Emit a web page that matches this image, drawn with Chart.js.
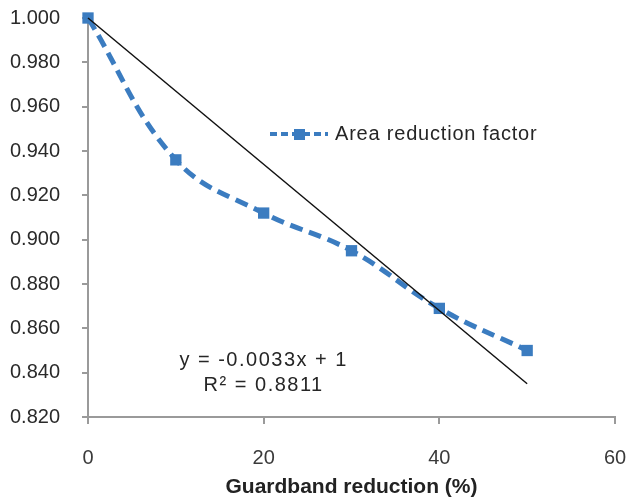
<!DOCTYPE html>
<html>
<head>
<meta charset="utf-8">
<script src="https://cdn.jsdelivr.net/npm/chart.js@4/dist/chart.umd.min.js"></script>
<style>
  html, body { margin: 0; padding: 0; background: #fff; }
  #wrap { width: 626px; height: 500px; position: relative; }
</style>
</head>
<body>
<div id="wrap"><canvas id="myChart" width="626" height="500"></canvas></div>
<script>
let ctx = document.getElementById('myChart').getContext('2d')

// guardband reduction (%) and the area factor measured at each step
const reductionPct = [0, 10, 20, 30, 40, 50]
const areaFactor   = [1.000, 0.936, 0.912, 0.895, 0.869, 0.850]

// linear trend through the points (intercept fixed at 1)
const trendSlope = -0.0033
const trendIntercept = 1
const trendX = [0, 50]
const trendR2 = 0.8811

// axis ticks
const xTicks = [0, 20, 40, 60]
const yTicks = [0.820, 0.840, 0.860, 0.880, 0.900, 0.920, 0.940, 0.960, 0.980, 1.000]

const seriesName = 'Area reduction factor'
const xTitle = 'Guardband reduction (%)'

const blue = '#3b7cc0'
const font = '"Liberation Sans", Arial, sans-serif'

let points = reductionPct.map((x, i) => ({ x: x, y: areaFactor[i] }))
let trend = trendX.map(x => ({ x: x, y: trendIntercept + trendSlope * x }))

// in-plot legend and trend equation
const notes = {
  id: 'notes',
  afterDraw(chart) {
    let c = chart.ctx
    let area = chart.chartArea
    c.save()

    // legend entry
    let ly = area.top + 116
    let lx = area.left + 182
    c.strokeStyle = blue
    c.lineWidth = 4
    c.setLineDash([7, 4])
    c.beginPath()
    c.moveTo(lx, ly)
    c.lineTo(lx + 58, ly)
    c.stroke()
    c.setLineDash([])
    c.fillStyle = blue
    c.fillRect(lx + 24, ly - 5, 11, 11)
    c.fillStyle = '#262626'
    c.font = '20px ' + font
    c.letterSpacing = '0.8px'
    c.textBaseline = 'middle'
    c.textAlign = 'left'
    c.fillText(seriesName, lx + 65, ly)

    // trend equation
    let ex = chart.scales.x.getPixelForValue(20)
    c.letterSpacing = '1.5px'
    c.textAlign = 'center'
    c.fillText('y = ' + trendSlope + 'x + ' + trendIntercept, ex, area.top + 342)
    c.fillText('R\u00b2 = ' + trendR2, ex, area.top + 367)
    c.restore()
  }
}

let chart = new Chart(ctx, {
  type: 'line',
  data: {
    datasets: [
      {
        label: seriesName,
        data: points,
        borderColor: blue,
        backgroundColor: blue,
        borderWidth: 5,
        borderDash: [13, 7],
        tension: 0.4,
        pointStyle: 'rect',
        pointRadius: 8,
        pointHoverRadius: 8,
        pointBorderWidth: 0,
        clip: false,
        order: 2
      },
      {
        label: 'trend',
        data: trend,
        borderColor: '#111',
        borderWidth: 1.5,
        pointRadius: 0,
        tension: 0,
        clip: false,
        order: 1
      }
    ]
  },
  options: {
    responsive: false,
    animation: false,
    events: [],
    layout: { padding: { top: 18, right: 11, left: 0, bottom: 0 } },
    plugins: {
      legend: { display: false },
      tooltip: { enabled: false }
    },
    scales: {
      x: {
        type: 'linear',
        min: 0,
        max: 60,
        afterBuildTicks: s => { s.ticks = xTicks.map(v => ({ value: v })) },
        afterFit: s => {
          s.height = 83
          s.paddingLeft = 0
          s.paddingRight = 0
        },
        grid: { drawOnChartArea: false, drawTicks: true, tickLength: 7, color: '#9a9a9a', lineWidth: 2 },
        border: { color: '#9a9a9a', width: 2 },
        ticks: { color: '#3a3a3a', font: { family: font, size: 20 }, padding: 22, maxRotation: 0 },
        title: {
          display: true,
          text: xTitle,
          color: '#222',
          font: { family: font, size: 21, weight: 'bold' },
          padding: { top: 0, bottom: 0 }
        }
      },
      y: {
        min: 0.82,
        max: 1.0,
        afterBuildTicks: s => { s.ticks = yTicks.map(v => ({ value: v })) },
        afterFit: s => {
          s.width = 88
          s.paddingTop = 0
          s.paddingBottom = 0
        },
        grid: { drawOnChartArea: false, drawTicks: true, tickLength: 6, color: '#9a9a9a', lineWidth: 2 },
        border: { color: '#9a9a9a', width: 2 },
        ticks: {
          color: '#2a2a2a',
          font: { family: font, size: 20 },
          padding: 22,
          callback: v => Number(v).toFixed(3)
        }
      }
    }
  },
  plugins: [notes]
})
</script>
</body>
</html>
